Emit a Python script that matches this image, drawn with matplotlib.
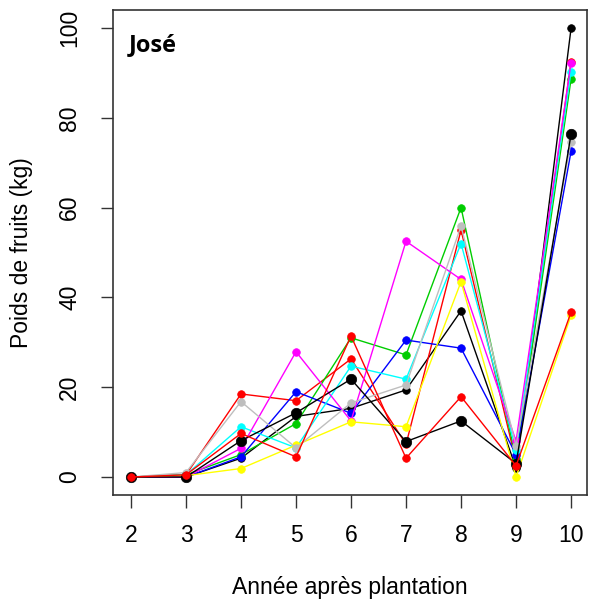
import matplotlib
matplotlib.use("Agg")
import matplotlib.pyplot as plt

years = [2, 3, 4, 5, 6, 7, 8, 9, 10]

s1_black = [0, 0, 4.2, 13.5, 15.3, 19.4, 37.0, 2.0, 99.9]
s2_red = [0, 0.5, 18.5, 17.0, 26.3, 7.3, 55.0, 3.4, 92.5]
s3_green = [0, 0.5, 5.0, 11.9, 31.0, 27.2, 60.0, 4.0, 88.6]
s4_blue = [0, 0, 4.5, 19.0, 14.2, 30.5, 28.7, 5.0, 72.5]
s5_cyan = [0, 0.5, 11.2, 6.5, 24.7, 21.8, 52.0, 6.0, 90.3]
s6_magenta = [0, 0, 6.4, 27.9, 12.5, 52.5, 44.0, 8.0, 92.3]
s7_yellow = [0, 0.3, 1.9, 7.1, 12.3, 11.2, 43.5, 0.0, 36.0]
s8_gray = [0, 1.0, 16.8, 6.5, 16.5, 20.5, 55.9, 7.0, 74.7]
s9_black = [0, 0, 8.1, 14.3, 21.8, 7.9, 12.5, 3.0, 76.3]
s10_red = [0, 0.5, 9.7, 4.5, 31.4, 4.2, 17.9, 2.5, 36.7]

series = [s1_black, s2_red, s3_green, s4_blue, s5_cyan, s6_magenta,
          s7_yellow, s8_gray, s9_black, s10_red]
colors = ["black", "#FF0000", "#00CD00", "#0000FF", "#00FFFF", "#FF00FF",
          "#FFFF00", "#BEBEBE", "black", "#FF0000"]
msizes = [5.5, 5.5, 5.5, 5.5, 5.5, 5.5, 5.5, 5.5, 7.5, 5.5]

xticks = [2, 3, 4, 5, 6, 7, 8, 9, 10]
yticks = [0, 20, 40, 60, 80, 100]

plt.rcParams['font.family'] = ['Liberation Sans', 'DejaVu Sans']

fig = plt.figure(figsize=(5.89, 6.08), dpi=100)
ax = fig.add_axes([113/589, 1-495/608, (587-113)/589, (495-10)/608])

for vals, c, ms in zip(series, colors, msizes):
    ax.plot(years, vals, color=c, lw=1.0, marker='o', markersize=ms,
            markerfacecolor=c, markeredgecolor=c, markeredgewidth=0.5)

ax.set_xlim(1.673, 10.29)
ax.set_ylim(-4.0, 104.0)
ax.set_xticks(xticks)
ax.set_yticks(yticks)
ax.set_xticklabels([str(t) for t in xticks])
ax.set_yticklabels([str(t) for t in yticks], rotation=90, va='center')
ax.tick_params(axis='both', direction='out', length=9, width=1, labelsize=16.5,
               color='#333333')
ax.tick_params(axis='x', pad=12)
ax.tick_params(axis='y', pad=14)
for sp in ax.spines.values():
    sp.set_color('#333333')
    sp.set_linewidth(1.2)

ax.set_xlabel("Année après plantation", fontsize=16.5, labelpad=21)
ax.set_ylabel("Poids de fruits (kg)", fontsize=16.5, labelpad=18)

ax.text(0.034, 0.952, "José", transform=ax.transAxes, fontsize=17,
        fontweight='bold', family=['Open Sans', 'DejaVu Sans'],
        va='top', ha='left')

fig.savefig("out.png", dpi=100)
